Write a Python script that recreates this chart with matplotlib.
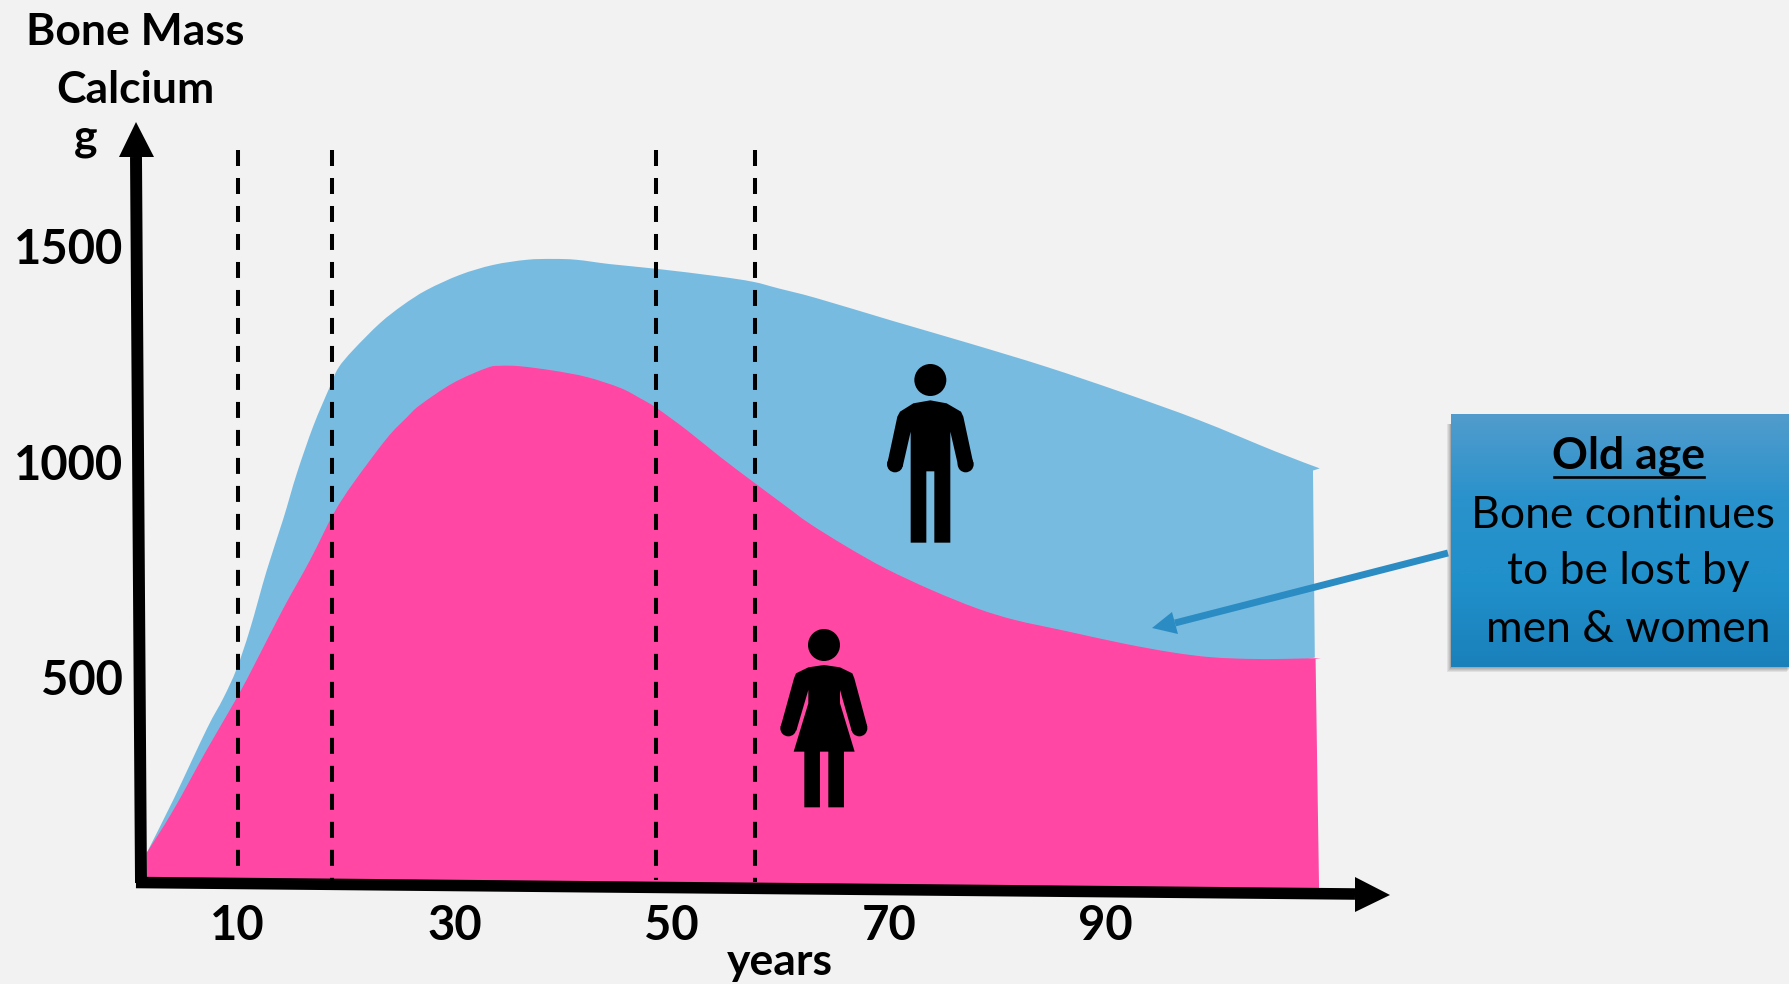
import matplotlib
matplotlib.use('Agg')
import matplotlib.pyplot as plt
import numpy as np
from matplotlib.colors import LinearSegmentedColormap
from matplotlib.patches import Circle, PathPatch, Polygon, Rectangle
from matplotlib.path import Path
from matplotlib.transforms import ScaledTranslation

plt.rcParams['font.family'] = ['Lato', 'DejaVu Sans']

# Bone mass by age (years, g of calcium)
men_age = [1.54, 3.99, 7.07, 8.6, 9.83, 11.06, 12.6, 14.13, 15.36, 16.89, 18.43, 19.2, 20.58, 23.04, 25.16, 27.35,
           30.41, 33.46, 36.56, 38.99, 41.17, 44.24, 48.54, 54.07, 57.42, 59.72, 63.27, 70.32, 77.38, 84.42, 91.49,
           98.53, 105.6, 109.66]
men_mass = [92, 215, 379, 451, 519, 611, 747, 867, 971, 1082, 1174, 1217, 1259, 1321, 1363, 1398,
            1433, 1456, 1468, 1470, 1468, 1458, 1447, 1430, 1417, 1402, 1379, 1326, 1274, 1220, 1160,
            1096, 1023, 984]
women_age = [1.54, 3.99, 7.07, 9.83, 11.68, 14.13, 16.59, 18.74, 20.58, 23.68, 25.5, 26.73, 29.77, 32.88, 34.1,
             35.94, 38.99, 42.09, 45.16, 47.0, 48.54, 51.31, 54.38, 57.42, 60.52, 62.57, 66.08, 69.62, 73.86, 78.09,
             81.61, 86.2, 91.5, 96.08, 99.6, 103.13, 106.3, 109.77]
women_mass = [92, 191, 331, 451, 539, 659, 771, 878, 950, 1054, 1102, 1131, 1182, 1217, 1222,
              1221, 1211, 1196, 1171, 1147, 1124, 1073, 1011, 953, 895, 857, 802, 752, 702, 659,
              632, 607, 578, 557, 546, 542, 542, 544]
# straight right hand edges and the lower left corner of both fills
men_edge_age = [109.03, 109.2]
men_edge_mass = [979, 545]
women_edge_age = [109.27, 109.59]
women_edge_mass = [542, 10]
base_age = 1.54
base_mass = 24

x_ticks = [10, 30, 50, 70, 90]
y_ticks = [500, 1000, 1500]

# dashed life stage markers: age, lower end, upper end
stage_age = [9.95, 18.66, 48.5, 57.6]
stage_low = [59, 29, 29, 24]
stage_high = [1722, 1722, 1722, 1722]

box_lines = ['Bone continues', 'to be lost by', 'men & women']
box_x = [1623, 1628, 1628]
box_y = [515, 572, 629]

BG = '#F2F2F2'
BLUE = '#78BBE1'
PINK = '#FF47A3'


def area_path(xs, ys, edge_x, edge_y):
    # smooth curve through the read points, then straight edges back to the start
    p = np.column_stack([xs, ys])
    verts = [p[0]]
    codes = [Path.MOVETO]
    for i in range(len(p) - 1):
        before = p[max(i - 1, 0)]
        after = p[min(i + 2, len(p) - 1)]
        verts += [p[i] + (p[i + 1] - before) / 6, p[i + 1] - (after - p[i]) / 6, p[i + 1]]
        codes += [Path.CURVE4] * 3
    for x, y in zip(edge_x + [base_age], edge_y + [base_mass]):
        verts.append((x, y))
        codes.append(Path.LINETO)
    verts.append(p[0])
    codes.append(Path.CLOSEPOLY)
    return Path(verts, codes)


fig = plt.figure(figsize=(17.9, 9.84), dpi=100, facecolor=BG)

# data axes, the axis lines themselves are drawn as arrows further down
ax = fig.add_axes([130 / 1790, (984 - 892.5) / 984, 1260 / 1790, 770.5 / 984])
ax.set_xlim(0, 1260 / 10.85)
ax.set_ylim(0, 770.5 / 0.431)
ax.patch.set_visible(False)
for s in ax.spines.values():
    s.set_visible(False)

ax.add_patch(PathPatch(area_path(men_age, men_mass, men_edge_age, men_edge_mass), facecolor=BLUE, lw=0))
ax.add_patch(PathPatch(area_path(women_age, women_mass, women_edge_age, women_edge_mass), facecolor=PINK, lw=0))

for a, lo, hi in zip(stage_age, stage_low, stage_high):
    ax.plot([a, a], [hi, lo], color='black', lw=2.9, linestyle=(0, (3.97, 2.98)), dash_capstyle='butt')

ax.set_xticks(x_ticks)
ax.set_yticks(y_ticks)
ax.tick_params(length=0, labelsize=34)
ax.tick_params(axis='x', pad=8)
ax.tick_params(axis='y', pad=5)
for lab in ax.get_xticklabels() + ax.get_yticklabels():
    lab.set_fontweight('bold')
nudge = ScaledTranslation(-0.8 / 100, 0, fig.dpi_scale_trans)
for lab in ax.get_xticklabels():
    lab.set_transform(lab.get_transform() + nudge)

# second layer in pixel coordinates for the annotations
ov = fig.add_axes([0, 0, 1, 1], zorder=5)
ov.set_xlim(0, 1790)
ov.set_ylim(984, 0)
ov.axis('off')

# axis arrows
ov.plot([141, 136], [883, 157], color='black', lw=8.6, solid_capstyle='butt')
ov.add_patch(Polygon([[136, 122], [119, 157], [154, 157]], color='black', lw=0))
ov.plot([136, 1355], [882.5, 894], color='black', lw=8.3, solid_capstyle='butt')
ov.add_patch(Polygon([[1390, 895], [1355, 877], [1355, 912]], color='black', lw=0))

# axis captions
ov.text(135, 32, 'Bone Mass', fontsize=32, fontweight='bold', ha='center', va='center')
ov.text(135, 90, 'Calcium', fontsize=32, fontweight='bold', ha='center', va='center')
ov.text(86, 138, 'g', fontsize=32, fontweight='bold', ha='center', va='center')
ov.text(780, 962, 'years', fontsize=32, fontweight='bold', ha='center', va='center')


def person(outline, head, hands, dx=760, dy=350):
    # outline is given at 3x, shifted to its place on the chart
    pts = np.array(outline) / 3 + [dx, dy]
    ov.add_patch(Polygon(pts, color='black', lw=0))
    ov.add_patch(Circle((head[0] / 3 + dx, head[1] / 3 + dy), 16, color='black', lw=0))
    for h in hands:
        ov.add_patch(Circle((h[0] / 3 + dx, h[1] / 3 + dy), 8, color='black', lw=0))


man = [(420, 185), (460, 160), (511, 151), (560, 160), (603, 185), (610, 200), (640, 340), (595, 350), (571, 245),
       (571, 578), (523, 578), (523, 364), (499, 364), (499, 578), (452, 578), (452, 245), (428, 350),
       (382, 340), (412, 200)]
person(man, (511, 90), [(617, 343), (405, 343)])

woman = [(108, 970), (145, 952), (192, 945), (240, 952), (277, 970), (283, 985), (322, 1130), (275, 1142),
         (240, 1020), (240, 1060), (284, 1205), (252, 1205), (252, 1372), (205, 1372), (205, 1205), (180, 1205),
         (180, 1372), (133, 1372), (133, 1205), (101, 1205), (145, 1060), (145, 1020), (109, 1142), (62, 1130),
         (102, 985)]
person(woman, (192, 885), [(298, 1135), (85, 1135)])

# text box with soft shadow to the lower left
for i in range(6):
    ov.add_patch(Rectangle((1451 - 0.7 * i, 424), 340, 243 + i, color='black', alpha=0.07, lw=0))
grad = LinearSegmentedColormap.from_list('box', ['#519CCD', '#2A92CB', '#2090CB', '#1A80BA'])
ov.imshow(np.linspace(0, 1, 256).reshape(-1, 1), cmap=grad, extent=[1451, 1790, 667, 414], aspect='auto', zorder=2)
ov.set_xlim(0, 1790)
ov.set_ylim(984, 0)

ov.text(1629, 456, 'Old age', fontsize=32, fontweight='bold', ha='center', va='center', zorder=3)
ov.plot([1554, 1704], [477, 477], color='black', lw=1.9, zorder=3)
for t, x, y in zip(box_lines, box_x, box_y):
    ov.text(x, y, t, fontsize=32, ha='center', va='center', zorder=3)

# arrow from the box to the curves
ov.plot([1448, 1175], [553, 623], color='#2B8CC4', lw=5, solid_capstyle='butt')
ov.add_patch(Polygon([[1152, 628], [1172, 612], [1178, 634]], color='#2B8CC4', lw=0))

fig.savefig('out.png', dpi=100, facecolor=BG)
